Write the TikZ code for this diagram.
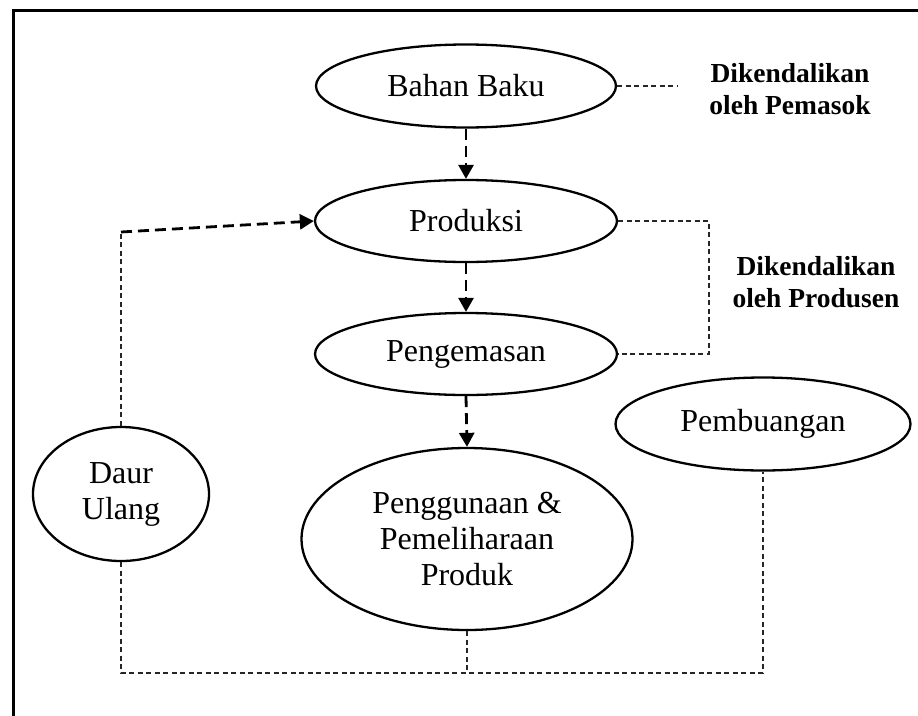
\documentclass[tikz,border=0pt]{standalone}
\usepackage{fontspec}
\setmainfont{Liberation Serif}
\usetikzlibrary{arrows.meta,shapes.geometric}
\begin{document}
\begin{tikzpicture}[x=1pt,y=-1pt,
  oval/.style={ellipse,draw,line width=2.3pt,inner sep=0pt,align=center,font=\fontsize{32}{36}\selectfont},
  flow/.style={line width=2.8pt,dash pattern=on 11pt off 6pt,-{Triangle[length=14pt,width=15pt]}},
  link/.style={line width=1.1pt,dash pattern=on 5pt off 3.5pt,draw=black!85},
  lbl/.style={align=center,font=\fontsize{27.5}{32}\selectfont\bfseries}]
\useasboundingbox (0,0) rectangle (918,715);
\clip (0,0) rectangle (918,715);
\draw[line width=3pt] (13,730) -- (13,10) -- (930,10);
% nodes
\node[oval,minimum width=300pt,minimum height=83pt] (bb) at (466,86) {Bahan Baku};
\node[oval,minimum width=302pt,minimum height=82pt] (pr) at (466,221) {Produksi};
\node[oval,minimum width=302pt,minimum height=82pt] (pk) at (466,354) {Pengemasan};
\node[oval,minimum width=331pt,minimum height=182pt] (pg) at (467,539) {Penggunaan \&\\Pemeliharaan\\Produk};
\node[oval,minimum width=295pt,minimum height=93pt] (pb) at (763,424) {Pembuangan};
\node[oval,minimum width=176pt,minimum height=134pt] (du) at (121,494) {Daur\\Ulang};
\node[lbl] (l1) at (790,89) {Dikendalikan\\oleh Pemasok};
\node[lbl] (l2) at (816,282) {Dikendalikan\\oleh Produsen};
% helper coordinates
\coordinate (c1) at (121,232);
\coordinate (b1) at (121,673);
\coordinate (r1) at (709,0);
\coordinate (e1) at (677,86);
% flow arrows
\draw[flow] (bb.south) -- (pr.north);
\draw[flow] (pr.south) -- (pk.north);
\draw[flow] (pk.south) -- (pg.north);
\draw[flow] (c1) -- (pr.west);
% thin dashed links
\draw[link] (bb.east) -- (e1);
\draw[link] (pr.east) -- (pr.east -| r1) -- (pk.east -| r1) -- (pk.east);
\draw[link] (du.north) -- (c1);
\draw[link] (du.south) -- (b1) -| (pb.south);
\draw[link] (pg.south) -- (pg.south |- b1);
\end{tikzpicture}
\end{document}
